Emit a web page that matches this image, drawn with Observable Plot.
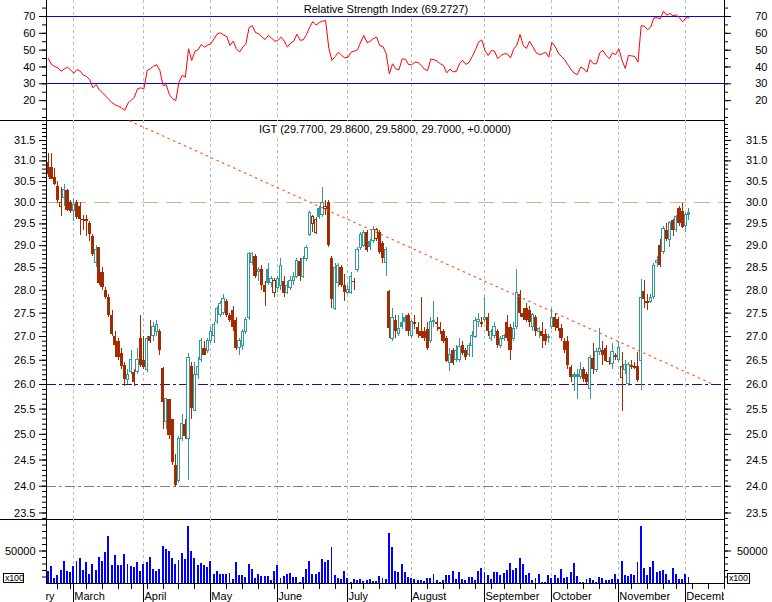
<!DOCTYPE html>
<html><head><meta charset="utf-8">
<script src="https://cdn.jsdelivr.net/npm/d3@7"></script>
<script src="https://cdn.jsdelivr.net/npm/@observablehq/plot@0.6"></script>
<style>
html,body{margin:0;padding:0;background:#fff;}
#chart{position:relative;width:772px;height:602px;overflow:hidden;background:#fff;}
#chart svg{position:absolute;left:0;top:0;}
.title{position:absolute;background:#fff;font:11px "Liberation Sans",Arial,sans-serif;color:#000;white-space:nowrap;line-height:11px;transform:translateX(-50%);padding:0 3px;}
.unit{position:absolute;box-sizing:border-box;border:1px solid #000;background:#fff;font:9px "Liberation Sans",Arial,sans-serif;line-height:8px;color:#000;padding-left:1px;letter-spacing:-0.2px;}
</style></head><body><div id="chart"></div>
<script>
// ---- data (trading days, index 0 = 1 March 2005) ----
const firstDay = -8;
const open = [
30.95,30.84,30.60,30.39,29.90,30.10,30.29,30.00,29.80,30.00,
29.90,29.60,29.60,29.50,29.20,28.60,28.95,28.40,28.00,27.85,
27.45,27.00,26.90,26.65,26.40,26.10,26.25,26.25,26.25,26.95,
26.50,26.30,27.00,27.00,27.10,27.10,26.33,25.25,25.70,25.30,
24.40,24.10,24.90,25.20,24.90,26.37,25.47,26.20,26.50,26.75,
26.70,26.90,27.00,27.30,27.45,27.50,27.75,27.45,27.55,27.35,
26.75,26.80,27.10,27.40,28.60,28.75,28.40,28.45,28.10,28.45,
28.15,27.95,28.05,28.10,28.20,27.95,28.05,28.20,28.30,28.65,
28.30,28.70,29.25,29.50,29.30,29.85,29.70,29.85,30.00,28.70,
27.60,28.15,28.50,28.10,27.95,27.95,28.20,28.45,28.95,29.00,
29.30,29.10,29.10,29.15,29.30,29.05,28.60,27.98,26.95,27.35,
27.05,27.30,27.40,27.45,27.00,27.30,27.20,27.10,27.10,27.14,
26.90,27.35,27.30,27.20,27.10,26.95,26.45,26.70,26.50,26.50,
26.80,26.70,26.60,26.80,26.98,27.30,27.30,27.35,27.40,26.95,
27.00,27.10,26.80,26.95,27.30,27.20,26.95,27.20,27.90,27.50,
27.60,27.55,27.20,27.40,27.10,27.10,27.05,27.00,27.20,27.40,
27.37,27.16,26.90,26.90,26.35,26.20,26.20,26.15,26.30,26.20,
25.90,26.54,26.30,26.67,26.70,26.74,26.48,26.43,26.60,26.50,
26.13,26.30,26.00,26.40,26.37,26.37,26.48,27.98,27.72,27.75,
27.85,28.60,29.00,28.85,29.34,29.13,29.59,29.36,29.85,29.80,
29.45,29.77];
const high = [
31.18,31.17,30.81,30.50,30.35,30.44,30.30,30.05,30.10,30.05,
30.00,29.70,29.70,29.55,29.25,29.00,28.95,28.50,28.05,27.90,
27.55,27.10,26.95,26.75,26.45,26.30,26.70,26.30,26.75,27.45,
27.00,27.00,27.35,27.30,27.35,27.15,26.35,25.70,25.70,25.30,
24.60,24.95,25.40,25.30,26.65,26.45,26.45,26.55,26.95,26.90,
26.95,27.20,27.30,27.65,27.75,27.90,27.80,27.50,27.65,27.40,
26.95,27.15,27.40,28.85,28.85,28.80,28.50,28.55,28.20,28.60,
28.30,28.25,28.30,28.70,28.30,28.20,28.30,28.40,28.70,28.70,
28.75,29.00,29.80,29.70,29.65,29.90,30.35,30.05,30.05,28.75,
28.60,28.60,28.55,28.35,28.10,28.40,28.25,28.95,29.30,29.35,
29.35,29.15,29.45,29.40,29.35,29.10,28.95,28.00,27.60,27.45,
27.45,27.50,27.45,27.50,27.35,27.45,27.30,27.85,27.20,27.30,
27.40,27.75,27.40,27.30,27.15,27.00,26.75,26.75,26.80,26.95,
26.90,26.75,26.85,27.10,27.40,27.50,27.40,27.85,27.50,27.15,
27.30,27.15,27.00,27.05,27.45,27.25,27.30,28.45,28.00,27.60,
27.70,27.65,27.50,27.45,27.20,27.30,27.15,27.05,27.60,27.50,
27.40,27.25,26.95,27.00,26.40,26.25,26.30,26.45,26.35,26.25,
26.60,26.85,26.75,27.16,26.90,26.80,26.55,26.85,26.65,26.90,
26.67,26.50,26.45,26.50,26.45,26.67,28.24,28.22,27.90,27.90,
28.60,28.75,29.15,29.45,29.50,29.55,29.60,29.70,29.90,29.97,
29.75,29.86];
const low = [
30.60,30.55,30.40,29.98,29.67,29.90,29.80,29.75,29.55,29.60,
29.23,29.35,29.20,29.10,28.75,28.50,28.10,28.00,27.80,27.40,
27.00,26.55,26.50,26.30,25.95,26.00,26.20,25.95,26.20,26.35,
26.30,26.25,26.85,26.90,27.00,26.60,25.10,25.10,24.90,24.40,
23.98,24.05,24.85,24.90,24.10,25.30,25.45,26.10,26.45,26.60,
26.65,26.85,26.85,27.25,27.40,27.45,27.40,27.30,27.10,26.70,
26.60,26.70,27.05,27.35,28.55,28.25,28.20,28.00,27.65,28.10,
28.05,27.85,27.95,28.00,27.85,27.90,28.00,28.10,28.25,28.20,
28.25,28.65,29.20,29.30,29.25,29.60,29.65,29.70,28.95,27.60,
27.55,28.05,28.05,27.75,27.90,27.90,28.00,28.40,28.90,28.95,
28.85,28.90,29.05,29.10,28.80,28.60,28.30,26.95,26.90,26.95,
27.00,27.15,27.10,27.00,26.95,27.15,26.95,26.95,26.90,26.70,
26.85,27.20,27.10,27.05,26.85,26.45,26.27,26.40,26.45,26.45,
26.60,26.50,26.55,26.55,26.95,27.20,27.20,27.30,27.00,26.90,
26.95,26.75,26.75,26.90,26.90,26.50,26.90,27.15,27.40,27.35,
27.30,27.20,27.10,27.00,26.95,26.75,26.80,26.85,27.15,27.10,
27.10,26.90,26.65,26.30,26.05,25.85,25.70,26.10,26.05,26.00,
25.70,26.20,26.25,26.60,26.40,26.45,26.40,26.30,26.50,26.45,
25.45,26.20,25.95,26.30,26.30,26.05,25.87,27.60,27.55,27.70,
27.80,28.50,28.50,28.80,29.10,28.95,29.20,29.30,29.45,29.40,
29.30,29.58];
const close = [
30.68,30.56,30.44,30.05,30.00,30.29,29.82,29.80,29.95,29.65,
29.60,29.58,29.55,29.25,28.80,28.90,28.15,28.05,27.85,27.45,
27.05,26.80,26.55,26.37,26.10,26.20,26.50,26.05,26.50,26.40,
26.35,26.95,26.90,27.20,27.25,26.70,25.64,25.70,24.97,24.45,
24.02,24.90,25.20,24.95,26.54,25.52,26.20,26.35,26.90,26.60,
26.90,27.10,27.25,27.60,27.70,27.80,27.45,27.35,27.20,26.75,
26.90,27.10,27.35,28.80,28.80,28.30,28.45,28.10,27.95,28.15,
28.25,28.20,28.25,28.55,27.92,28.10,28.20,28.30,28.65,28.30,
28.70,28.95,29.75,29.65,29.60,29.65,30.00,29.90,29.00,27.80,
28.50,28.55,28.10,27.95,28.00,28.30,28.18,28.90,29.25,29.30,
28.90,28.95,29.36,29.35,28.85,28.70,28.90,27.16,27.40,27.10,
27.15,27.20,27.30,27.10,27.30,27.25,27.05,27.00,26.95,26.75,
27.30,27.30,27.25,27.15,26.90,26.48,26.60,26.43,26.70,26.78,
26.65,26.55,26.80,27.00,27.33,27.35,27.25,27.40,27.10,27.10,
27.20,26.80,26.95,27.00,26.95,26.70,27.16,27.95,27.50,27.40,
27.35,27.30,27.45,27.10,27.15,27.00,26.90,26.95,27.40,27.20,
27.16,26.95,26.70,26.40,26.15,26.15,26.15,26.30,26.10,26.05,
26.54,26.30,26.67,26.74,26.60,26.48,26.45,26.67,26.55,26.75,
26.37,26.40,26.40,26.35,26.33,26.08,27.84,27.80,27.75,27.82,
28.55,28.65,28.55,29.38,29.13,29.52,29.34,29.66,29.50,29.42,
29.70,29.70];
const volume = [
18700,25800,8100,11600,20700,33300,18700,17200,25800,33300,
38900,20200,31800,13600,29800,20200,39400,33300,47500,71700,
28300,43400,27300,27300,43900,28800,25800,24700,31800,19200,
29800,31800,39900,21200,18200,21200,57600,53000,49500,38900,
28800,35900,46500,37400,87900,49500,38400,27300,30800,27800,
24200,34300,13600,18700,14600,14600,13600,15700,6100,31800,
11600,12600,9600,28800,22000,8100,13600,10100,10600,10600,
4500,18700,27300,7600,11100,13100,15200,9600,8600,2000,
9600,21200,33300,13600,14600,16700,37400,32300,35900,56100,
11600,7600,5600,19200,7600,1500,6100,4500,6100,3000,
4500,6100,2500,2500,10600,8100,6100,76300,56100,19200,
16700,28800,16700,9600,8100,6100,4500,4500,3500,7100,
8100,13100,4500,2000,4500,11600,11600,19200,5600,16700,
6600,4000,8600,8600,4500,18200,22700,17200,11600,6100,
16700,16700,12100,15700,19700,30800,20700,23200,38900,28800,
12100,15700,4500,7600,13100,2000,2000,11600,8100,12100,
8100,21200,8100,9100,17200,30800,10600,1000,1500,5600,
8100,4500,2000,9100,8100,4000,4500,6100,14600,6100,
34300,12100,10600,14600,12100,32300,87900,22700,12100,24700,
33300,17200,18700,20700,14600,4500,23700,13600,6100,6000,
14600,9600];
const rsi = [
45.0,41.5,40.3,39.5,37.5,38.7,39.9,38.3,36.3,38.5,
37.5,35.2,34.4,32.4,27.6,29.6,26.4,24.7,22.7,20.7,
18.7,17.5,16.7,15.7,14.2,18.5,20.1,22.1,27.0,27.6,
27.0,37.9,38.9,40.5,41.3,37.9,29.0,29.4,23.5,21.1,
20.1,31.0,35.0,34.0,50.8,43.9,49.4,50.2,53.4,51.8,
53.0,53.8,56.7,59.7,60.3,58.9,58.1,52.8,55.3,50.8,
48.8,51.8,53.8,63.5,64.5,60.5,59.7,57.9,56.3,58.7,
57.3,55.3,55.7,57.7,55.5,51.8,54.2,55.3,59.5,55.9,
56.1,59.3,63.7,67.0,64.9,66.4,67.2,67.6,51.2,43.9,
46.2,48.8,47.0,45.4,45.8,48.8,49.4,50.2,54.8,58.7,
54.4,55.3,56.9,57.7,52.6,52.2,47.8,35.9,41.9,38.9,
38.3,44.7,44.7,41.5,41.3,42.9,42.7,40.9,38.7,37.9,
44.7,44.3,43.5,41.9,40.9,36.5,38.7,37.1,37.3,41.9,
43.9,41.5,42.7,46.2,50.2,54.8,56.1,49.8,46.8,49.8,
49.4,44.9,46.8,47.8,47.8,45.4,50.6,53.0,59.3,52.8,
51.0,55.3,52.0,48.6,47.4,47.8,48.8,45.8,54.6,52.2,
48.2,46.2,44.3,41.3,38.5,36.3,35.5,39.9,38.9,36.9,
44.3,41.9,41.9,48.4,49.8,46.8,45.0,48.2,47.4,50.8,
43.9,39.1,46.8,46.6,46.2,42.9,64.5,64.3,62.1,63.7,
69.2,69.2,68.6,73.2,70.8,71.8,70.4,71.0,69.2,66.8,
69.2,69.27];
const monthStarts = [0,22,43,64,86,106,129,150,171,192];
const monthLabelDays = [-20,0,22,43,64,86,106,129,150,171,192];
const monthNames = ["February","March","April","May","June","July","August","September","October","November","December"];
const weekStarts = [-5,-1,4,9,14,18,23,28,33,38,43,48,53,58,63,67,72,77,82,87,91,96,101,106,111,116,121,126,131,135,140,145,150,155,160,165,170,175,180,185,189,194,199,204];
const rsiLevels = [30, 70];
const rsiMajor = [20,30,40,50,60,70];
const rsiMinor = [10,15,20,25,30,35,40,45,50,55,60,65,70,75];
const priceMajor = [23.5,24,24.5,25,25.5,26,26.5,27,27.5,28,28.5,29,29.5,30,30.5,31,31.5];
const priceMinor = d3.range(234, 320).map(v => v / 10);
const volMajor = [50000];
const volMinor = [10000,20000,30000,40000,50000,60000,70000,80000,90000];
const resistance = 30.0, support1 = 26.0, support2 = 24.0;
const trendDays = [17.5, 200.7];
const trendPrices = [31.99, 26.0];

// ---- layout ----
const W = 772, H = 602, ML = 46, MR = 48;
const xDomain = [-8.565, 204.14];
const pxPerDay = (W - ML - MR) / (xDomain[1] - xDomain[0]);
const xAtPx = p => xDomain[0] + (p - ML) / pxPerDay;
const RED = "#a52a00", TEAL = "#339999";

const rows = close.map((c, i) => ({
  d: firstDay + i, o: open[i], h: high[i], l: low[i], c, v: volume[i], r: rsi[i],
  col: c >= (i > 0 ? close[i - 1] : Infinity) ? TEAL : RED
}));
const trend = trendDays.map((d, i) => ({d, p: trendPrices[i]}));
const months = monthLabelDays.map((d, i) => ({d, name: monthNames[i]}));

const common = {
  width: W, height: H, marginLeft: ML, marginRight: MR,
  x: {domain: xDomain, axis: null},
  color: {type: "identity"},
  style: {background: "transparent", overflow: "visible", fontFamily: '"Liberation Sans", Arial, sans-serif', fontSize: "11px", color: "#000"}
};
const grid = () => Plot.ruleX(monthStarts, {stroke: "#bbbbbb", strokeDasharray: "3,3", shapeRendering: "crispEdges"});
const sideAxes = (minor, major, fmt) => [
  Plot.axisY(minor, {anchor: "left", tickSize: 4, tickFormat: () => "", label: null}),
  Plot.axisY(minor, {anchor: "right", tickSize: 3, tickFormat: () => "", label: null}),
  Plot.axisY(major, {anchor: "left", tickSize: 7, tickPadding: 4, tickFormat: fmt, label: null}),
  Plot.axisY(major, {anchor: "right", tickSize: 6, tickFormat: () => "", label: null}),
  Plot.text(major, {x: () => xDomain[1], y: d => d, text: fmt, textAnchor: "end", dx: 43, fill: "#000"})
];
const sides = () => Plot.ruleX(xDomain, {stroke: "#000", shapeRendering: "crispEdges"});

const rsiDomain = [8.19, 79.5];
const rsiPlot = Plot.plot({
  ...common, marginTop: 0, marginBottom: H - 120,
  y: {domain: rsiDomain},
  marks: [
    grid(),
    Plot.ruleY(rsiLevels, {stroke: "#0000ff", shapeRendering: "crispEdges"}),
    Plot.line(rows, {x: "d", y: "r", stroke: "#ff0000", strokeWidth: 1}),
    ...sideAxes(rsiMinor, rsiMajor, d => String(d)),
    sides(),
    Plot.ruleY([rsiDomain[0]], {x1: () => xAtPx(0), x2: () => xDomain[1], stroke: "#000", shapeRendering: "crispEdges"})
  ]
});

const priceDomain = [23.38, 32.0];
const pricePlot = Plot.plot({
  ...common, marginTop: 120, marginBottom: H - 519,
  y: {type: "log", domain: priceDomain},
  marks: [
    grid(),
    Plot.ruleY([resistance], {stroke: "#c8b496", strokeDasharray: "16,8", shapeRendering: "crispEdges"}),
    Plot.ruleY([support1], {stroke: "#400080", strokeDasharray: "10,3,3,3", shapeRendering: "crispEdges"}),
    Plot.ruleY([support2], {stroke: "#808080", strokeDasharray: "10,3,3,3", shapeRendering: "crispEdges"}),
    Plot.ruleX(rows, {x: "d", y1: "l", y2: "h", stroke: "col", shapeRendering: "crispEdges"}),
    Plot.rect(rows.filter(r => r.c < r.o), {x1: r => r.d - 0.5, x2: r => r.d + 0.5, y1: "o", y2: "c", fill: "col", shapeRendering: "crispEdges"}),
    Plot.rect(rows.filter(r => r.c >= r.o), {x1: r => r.d - 0.35, x2: r => r.d + 0.35, y1: "o", y2: "c", fill: "white", stroke: "col", shapeRendering: "crispEdges"}),
    Plot.line(trend, {x: "d", y: "p", stroke: "#ff5a14", strokeDasharray: "1.5,4.5", strokeWidth: 1.2, clip: true}),
    ...sideAxes(priceMinor, priceMajor, d => d.toFixed(1)),
    sides(),
    Plot.ruleY([priceDomain[0]], {x1: () => xAtPx(0), x2: () => xDomain[1], stroke: "#000", shapeRendering: "crispEdges"})
  ]
});

const volPlot = Plot.plot({
  ...common, marginTop: 519, marginBottom: H - 583,
  y: {domain: [0, 98500]},
  marks: [
    grid(),
    Plot.rect(rows, {x1: r => r.d - 0.3, x2: r => r.d + 0.3, y1: () => 0, y2: "v", fill: "#0000ff", shapeRendering: "crispEdges"}),
    ...sideAxes(volMinor, volMajor, d => String(d)),
    sides(),
    Plot.ruleY([0], {stroke: "#000", shapeRendering: "crispEdges"})
  ]
});

const axisPlot = Plot.plot({
  ...common, marginTop: 583, marginBottom: 0,
  y: {domain: [0, 1], axis: null},
  marks: [
    Plot.ruleX(monthStarts, {stroke: "#000", shapeRendering: "crispEdges"}),
    Plot.ruleX(weekStarts, {y1: () => 1, y2: () => 0.684, stroke: "#000", shapeRendering: "crispEdges"}),
    Plot.text(months, {x: "d", y: () => 0.32, text: "name", textAnchor: "start", dx: 0.5, clip: true, fill: "#000"})
  ]
});

const chart = document.getElementById("chart");
[rsiPlot, pricePlot, volPlot, axisPlot].forEach(p => chart.appendChild(p));

function addDiv(cls, text, css) {
  const el = document.createElement("div");
  el.className = cls; el.textContent = text;
  Object.assign(el.style, css);
  chart.appendChild(el);
}
addDiv("title", "Relative Strength Index (69.2727)", {left: "386px", top: "0px", paddingTop: "3.7px", paddingBottom: "1.3px"});
addDiv("title", "IGT (29.7700, 29.8600, 29.5800, 29.7000, +0.0000)", {left: "385px", top: "121px", paddingTop: "2.7px", paddingBottom: "2px"});
addDiv("unit", "x100", {left: "3px", top: "573px", width: "21px", height: "10px"});
addDiv("unit", "x100", {left: "727px", top: "573px", width: "23px", height: "11px"});
</script>
</body></html>
